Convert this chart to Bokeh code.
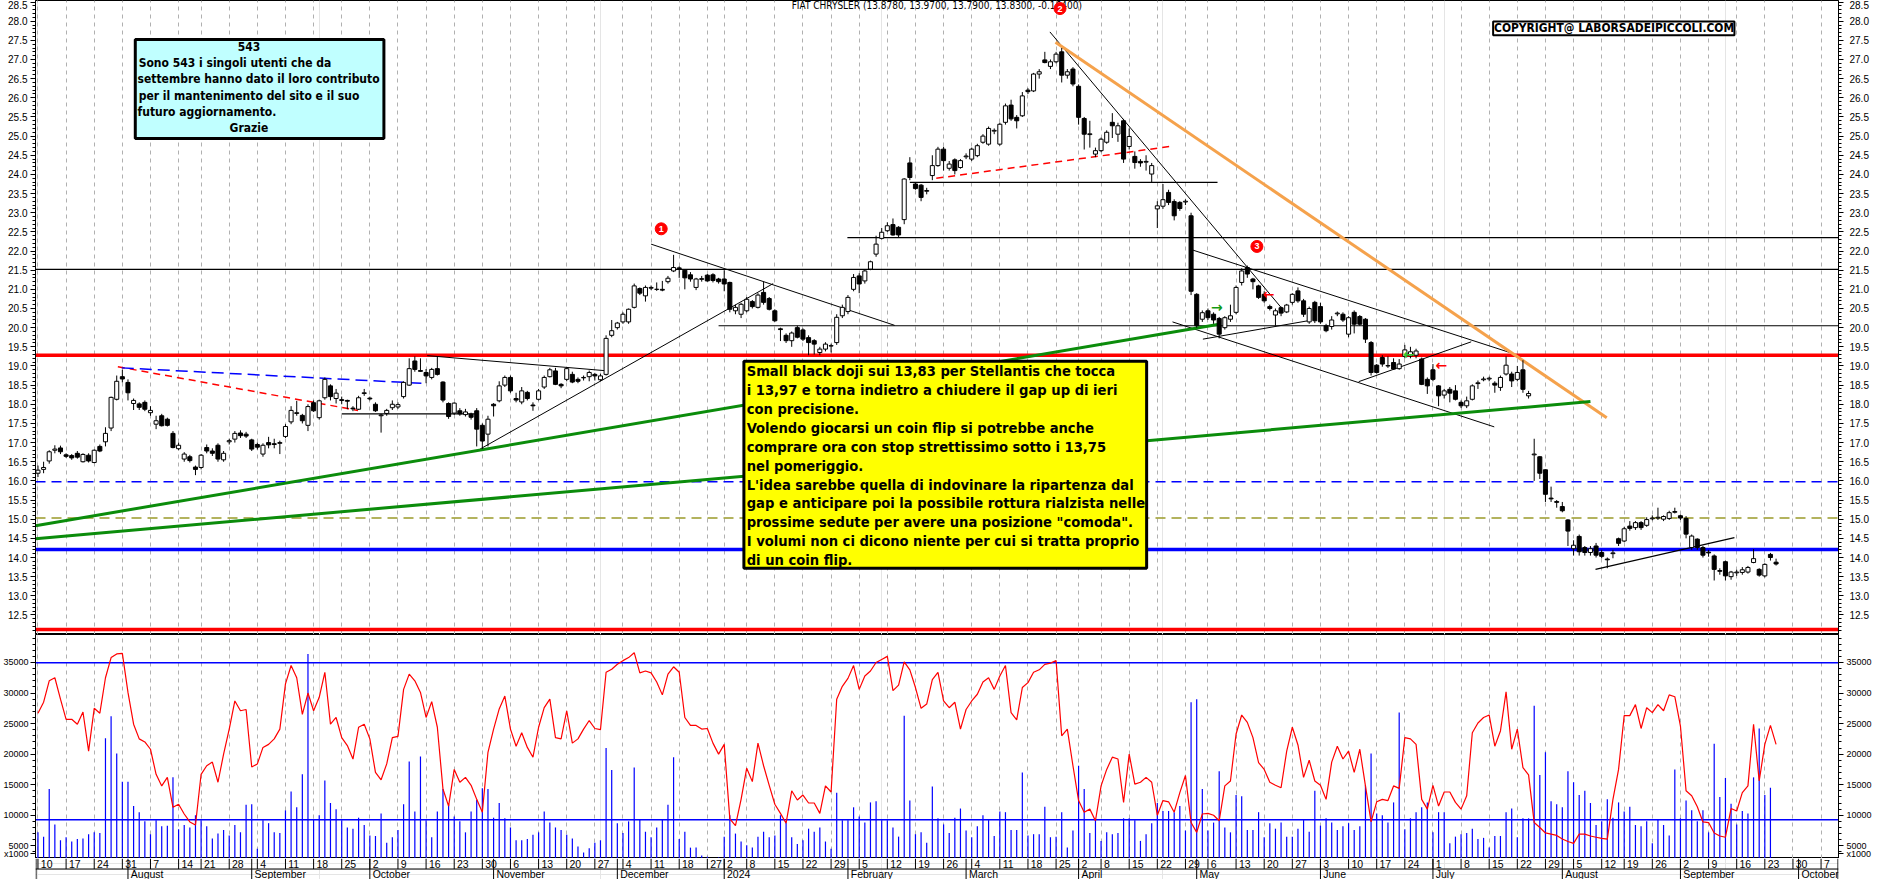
import pandas as pd
from bokeh.plotting import figure
from bokeh.layouts import column
from bokeh.models import (ColumnDataSource, FixedTicker, Grid, LinearAxis, Range1d,
                          PrintfTickFormatter)
from bokeh.core.properties import value
from bokeh.embed import file_html
from bokeh.resources import INLINE

# ------------------------------------------------------------------ data
first_session = "2023-07-10"
calendar_end = "2024-10-18"
exchange_holidays = ["2023-08-15", "2023-12-25", "2023-12-26", "2024-01-01",
                     "2024-03-29", "2024-04-01", "2024-05-01", "2024-08-15"]

opens = [
    16.20, 16.30, 16.52, 16.80, 16.86, 16.68, 16.66, 16.72, 16.50, 16.67,
    16.48, 16.90, 17.02, 17.38, 18.13, 18.72, 18.57, 18.02, 18.01, 18.05,
    17.78, 17.48, 17.70, 17.61, 17.24, 16.84, 16.57, 16.63, 16.36, 16.35,
    16.87, 16.78, 16.93, 16.55, 17.02, 17.09, 17.25, 17.22, 17.07, 16.95,
    16.70, 17.00, 16.97, 16.98, 17.16, 17.54, 17.76, 17.71, 17.45, 18.04,
    17.65, 18.17, 18.48, 18.15, 18.12, 18.10, 17.90, 17.87, 18.28, 18.16,
    18.00, 17.70, 17.76, 17.91, 17.93, 18.20, 18.50, 19.13, 18.88, 18.83,
    18.70, 18.93, 18.58, 18.02, 17.77, 17.83, 17.73, 17.74, 17.83, 17.45,
    17.22, 18.00, 18.09, 18.50, 18.70, 18.15, 18.06, 18.31, 17.98, 18.13,
    18.45, 18.72, 18.87, 18.52, 18.65, 18.78, 18.65, 18.69, 18.72, 18.78,
    18.64, 18.78, 19.80, 20.00, 20.15, 20.15, 20.53, 21.02, 20.83, 21.03,
    21.00, 21.00, 21.20, 21.48, 21.56, 21.50, 21.38, 21.05, 21.26, 21.37,
    21.38, 21.27, 21.27, 21.18, 20.44, 20.35, 20.44, 20.68, 20.53, 20.92,
    20.76, 20.44, 19.97, 19.80, 19.66, 20.00, 19.94, 19.74, 19.66, 19.35,
    19.44, 19.52, 19.61, 20.31, 20.42, 21.00, 21.35, 21.22, 21.53, 21.92,
    22.33, 22.53, 22.69, 22.62, 22.82, 24.30, 23.75, 23.72, 23.56, 23.97,
    24.23, 24.66, 24.16, 24.38, 24.18, 24.46, 24.40, 24.49, 24.84, 24.79,
    25.13, 24.79, 25.36, 25.81, 25.49, 25.53, 26.20, 26.18, 26.62, 26.99,
    26.82, 26.94, 27.20, 26.59, 26.75, 26.30, 25.46, 25.04, 24.53, 24.62,
    24.84, 25.36, 25.05, 25.40, 24.73, 24.47, 24.34, 24.32, 24.01, 23.10,
    23.17, 23.53, 23.29, 23.27, 23.28, 22.92, 20.87, 20.22, 20.44, 20.35,
    20.24, 20.00, 20.22, 20.40, 21.18, 21.57, 21.27, 21.09, 20.87, 20.55,
    20.33, 20.52, 20.41, 20.66, 20.96, 20.70, 20.15, 20.66, 20.55, 20.05,
    20.03, 20.36, 20.35, 19.83, 20.40, 20.29, 20.22, 19.61, 19.02, 19.22,
    19.00, 19.09, 18.93, 19.25, 19.26, 19.28, 19.18, 18.65, 18.90, 18.48,
    18.24, 18.39, 18.35, 18.05, 17.96, 18.13, 18.54, 18.64, 18.66, 18.55,
    18.44, 18.79, 18.79, 18.65, 18.90, 18.22, 16.68, 16.63, 16.29, 15.55,
    15.46, 15.33, 14.98, 14.23, 14.55, 14.26, 14.13, 14.30, 14.13, 13.96,
    14.10, 14.49, 14.43, 14.82, 14.78, 14.91, 14.84, 15.01, 15.03, 15.00,
    15.02, 15.18, 15.09, 15.02, 14.26, 14.48, 14.26, 14.14, 14.04, 13.66,
    13.89, 13.50, 13.60, 13.61, 13.62, 13.87, 13.69, 13.52, 14.08, 13.878,
]
highs = [
    16.40, 16.50, 16.80, 16.93, 16.92, 16.72, 16.70, 16.78, 16.72, 16.72,
    16.82, 16.95, 17.40, 18.20, 18.75, 18.90, 18.65, 18.15, 18.05, 18.10,
    17.95, 17.70, 17.75, 17.65, 17.30, 17.00, 16.75, 16.68, 16.40, 16.70,
    16.95, 16.85, 16.98, 16.78, 17.10, 17.30, 17.32, 17.28, 17.10, 17.00,
    16.98, 17.15, 17.10, 17.05, 17.48, 17.95, 18.09, 17.75, 18.00, 18.10,
    18.12, 18.70, 18.52, 18.40, 18.20, 18.12, 17.95, 18.22, 18.40, 18.20,
    18.05, 17.75, 17.88, 18.10, 18.05, 18.60, 19.20, 19.25, 19.20, 18.92,
    18.95, 19.25, 18.60, 18.05, 18.05, 17.90, 17.88, 17.78, 17.90, 17.50,
    17.70, 18.03, 18.60, 18.75, 18.75, 18.30, 18.45, 18.35, 18.05, 18.40,
    18.75, 18.95, 18.95, 18.55, 18.96, 18.85, 18.70, 18.75, 18.88, 18.82,
    18.80, 19.80, 20.20, 20.15, 20.40, 20.50, 21.15, 21.05, 21.10, 21.10,
    21.18, 21.22, 21.35, 21.90, 21.60, 21.52, 21.45, 21.30, 21.35, 21.40,
    21.42, 21.30, 21.50, 21.20, 20.60, 20.65, 20.80, 20.72, 20.90, 21.20,
    20.80, 20.48, 20.00, 19.85, 19.90, 20.05, 19.98, 19.80, 19.70, 19.50,
    19.62, 19.58, 20.35, 20.60, 20.85, 21.40, 21.42, 21.52, 21.75, 22.40,
    22.60, 22.75, 22.85, 22.65, 23.90, 24.45, 23.80, 23.75, 23.65, 24.50,
    24.72, 24.72, 24.35, 24.42, 24.40, 24.55, 24.70, 24.80, 25.05, 25.25,
    25.20, 25.35, 25.85, 25.95, 25.55, 26.15, 26.25, 26.65, 26.75, 27.20,
    27.00, 27.20, 27.30, 26.75, 26.80, 26.35, 25.50, 25.40, 24.70, 24.96,
    25.15, 25.60, 25.35, 25.45, 25.20, 24.60, 24.40, 24.50, 24.30, 23.30,
    23.75, 23.60, 23.35, 23.30, 23.35, 23.00, 20.90, 20.45, 20.50, 20.40,
    20.28, 20.30, 20.60, 21.10, 21.55, 21.62, 21.30, 21.12, 20.95, 20.60,
    20.50, 20.55, 20.62, 20.90, 21.05, 20.75, 20.55, 20.70, 20.65, 20.10,
    20.30, 20.42, 20.40, 20.30, 20.45, 20.33, 20.25, 19.65, 19.05, 19.28,
    19.25, 19.20, 19.18, 19.55, 19.50, 19.45, 19.22, 18.70, 19.05, 18.50,
    18.40, 18.45, 18.50, 18.10, 18.20, 18.52, 18.62, 18.72, 18.72, 18.60,
    18.75, 19.25, 18.85, 19.00, 19.15, 18.35, 17.10, 16.65, 16.30, 15.85,
    15.50, 15.45, 15.00, 14.45, 14.60, 14.30, 14.30, 14.38, 14.20, 14.00,
    14.20, 14.52, 14.80, 14.95, 14.95, 14.95, 15.05, 15.10, 15.30, 15.10,
    15.22, 15.30, 15.12, 15.08, 14.60, 14.50, 14.30, 14.20, 14.08, 13.72,
    13.92, 13.65, 13.68, 13.75, 13.78, 14.22, 13.72, 13.85, 14.12, 13.97,
]
lows = [
    16.10, 16.20, 16.45, 16.72, 16.70, 16.60, 16.55, 16.58, 16.48, 16.48,
    16.46, 16.75, 16.90, 17.30, 18.10, 18.57, 18.10, 17.85, 17.85, 17.82,
    17.70, 17.35, 17.42, 17.42, 16.85, 16.80, 16.50, 16.48, 16.15, 16.30,
    16.72, 16.65, 16.50, 16.50, 16.95, 17.00, 17.12, 17.12, 16.78, 16.82,
    16.63, 16.85, 16.85, 16.70, 17.12, 17.48, 17.70, 17.50, 17.30, 17.80,
    17.60, 18.12, 18.10, 18.02, 18.00, 17.87, 17.82, 17.85, 18.22, 18.10,
    17.80, 17.26, 17.70, 17.85, 17.88, 18.15, 18.48, 18.85, 18.85, 18.55,
    18.65, 18.75, 18.05, 17.62, 17.72, 17.70, 17.68, 17.60, 16.90, 16.83,
    16.90, 17.68, 18.05, 18.45, 18.30, 18.05, 18.00, 18.10, 17.83, 18.10,
    18.40, 18.70, 18.50, 18.42, 18.60, 18.55, 18.55, 18.62, 18.60, 18.62,
    18.60, 18.75, 19.75, 19.95, 20.10, 20.10, 20.50, 20.85, 20.68, 20.98,
    20.96, 20.95, 21.15, 21.45, 21.30, 21.00, 21.20, 20.98, 21.20, 21.20,
    21.18, 21.15, 20.95, 20.40, 20.35, 20.25, 20.40, 20.50, 20.50, 20.60,
    20.45, 20.15, 19.65, 19.60, 19.50, 19.72, 19.65, 19.28, 19.30, 19.28,
    19.38, 19.35, 19.55, 20.25, 20.35, 20.95, 20.90, 21.15, 21.50, 21.85,
    22.30, 22.50, 22.40, 22.35, 22.70, 23.85, 23.60, 23.30, 23.48, 23.85,
    24.20, 24.10, 24.10, 24.00, 24.15, 24.40, 24.35, 24.45, 24.80, 24.75,
    25.05, 24.75, 25.30, 25.40, 25.20, 25.50, 26.10, 26.15, 26.50, 26.90,
    26.75, 26.90, 26.40, 26.50, 26.30, 25.30, 24.65, 24.70, 24.45, 24.58,
    24.80, 24.95, 24.85, 24.30, 24.65, 24.15, 24.20, 24.10, 23.80, 22.60,
    23.10, 23.20, 22.80, 23.05, 23.20, 20.85, 20.00, 20.15, 20.20, 20.10,
    19.72, 19.95, 20.15, 20.35, 21.10, 21.30, 21.00, 20.75, 20.65, 20.45,
    20.05, 20.30, 20.38, 20.60, 20.65, 20.28, 20.10, 20.12, 20.10, 19.88,
    19.95, 20.30, 20.15, 19.75, 19.85, 20.05, 19.60, 18.75, 18.80, 18.98,
    18.95, 18.90, 18.90, 19.20, 19.20, 19.20, 18.50, 18.27, 18.60, 17.95,
    18.15, 18.05, 18.10, 17.90, 17.90, 18.10, 18.40, 18.60, 18.60, 18.30,
    18.35, 18.75, 18.45, 18.60, 18.30, 18.15, 16.00, 16.05, 15.45, 15.45,
    15.30, 15.18, 14.30, 14.05, 14.05, 14.05, 14.05, 14.00, 13.98, 13.72,
    13.98, 14.30, 14.40, 14.70, 14.72, 14.72, 14.80, 14.97, 14.98, 14.95,
    14.98, 15.15, 14.98, 14.50, 14.20, 14.20, 14.00, 14.02, 13.40, 13.55,
    13.40, 13.42, 13.52, 13.55, 13.58, 13.85, 13.50, 13.48, 13.92, 13.79,
]
closes = [
    16.28, 16.35, 16.76, 16.83, 16.76, 16.64, 16.60, 16.62, 16.69, 16.52,
    16.80, 16.78, 17.24, 18.18, 18.60, 18.66, 18.30, 18.10, 17.92, 17.87,
    17.84, 17.57, 17.44, 17.45, 16.87, 16.93, 16.70, 16.53, 16.30, 16.67,
    16.78, 16.72, 16.57, 16.72, 17.05, 17.24, 17.18, 17.17, 16.83, 16.88,
    16.93, 16.94, 16.95, 17.00, 17.42, 17.84, 17.78, 17.57, 17.94, 17.83,
    18.09, 18.65, 18.20, 18.29, 18.10, 18.08, 17.88, 18.17, 18.30, 18.14,
    17.83, 17.72, 17.84, 18.00, 17.99, 18.57, 18.93, 18.91, 18.86, 18.74,
    18.91, 18.78, 18.11, 17.68, 18.03, 17.75, 17.80, 17.66, 17.35, 17.04,
    17.61, 17.96, 18.48, 18.70, 18.35, 18.11, 18.35, 18.15, 17.96, 18.35,
    18.70, 18.90, 18.52, 18.48, 18.93, 18.58, 18.60, 18.70, 18.83, 18.74,
    18.74, 19.72, 19.92, 20.12, 20.35, 20.48, 21.09, 20.90, 21.05, 21.05,
    21.00, 20.98, 21.29, 21.57, 21.54, 21.30, 21.27, 21.27, 21.28, 21.22,
    21.23, 21.20, 21.14, 20.48, 20.53, 20.61, 20.74, 20.55, 20.85, 20.66,
    20.48, 20.18, 19.95, 19.66, 19.86, 19.75, 19.70, 19.61, 19.57, 19.44,
    19.57, 19.53, 20.27, 20.53, 20.79, 21.31, 21.14, 21.48, 21.72, 22.18,
    22.49, 22.66, 22.42, 22.42, 23.88, 23.92, 23.63, 23.40, 23.58, 24.23,
    24.66, 24.36, 24.27, 24.10, 24.36, 24.48, 24.66, 24.75, 25.00, 25.20,
    25.15, 25.31, 25.79, 25.45, 25.40, 26.05, 26.16, 26.62, 26.68, 26.92,
    26.94, 27.14, 26.59, 26.68, 26.36, 25.49, 25.05, 25.06, 24.62, 24.92,
    25.10, 25.27, 25.27, 24.40, 24.99, 24.31, 24.30, 24.34, 24.23, 23.18,
    23.34, 23.27, 22.92, 23.11, 23.30, 20.95, 20.05, 20.39, 20.26, 20.20,
    19.83, 20.26, 20.31, 21.05, 21.48, 21.40, 21.20, 20.79, 20.70, 20.50,
    20.44, 20.38, 20.59, 20.87, 20.70, 20.35, 20.50, 20.18, 20.15, 19.92,
    20.20, 20.38, 20.20, 20.26, 20.09, 20.09, 19.70, 18.83, 18.83, 19.05,
    19.01, 18.92, 19.05, 19.42, 19.37, 19.39, 18.52, 18.48, 18.65, 18.22,
    18.35, 18.29, 18.13, 17.96, 18.09, 18.48, 18.56, 18.66, 18.68, 18.50,
    18.70, 19.02, 18.61, 18.83, 18.39, 18.28, 16.70, 16.20, 15.65, 15.53,
    15.44, 15.22, 14.69, 14.32, 14.15, 14.13, 14.23, 14.06, 14.03, 13.94,
    14.12, 14.37, 14.75, 14.76, 14.91, 14.78, 14.99, 15.03, 15.05, 15.07,
    15.17, 15.20, 15.03, 14.61, 14.56, 14.26, 14.06, 14.12, 13.69, 13.64,
    13.52, 13.62, 13.62, 13.68, 13.74, 13.97, 13.54, 13.82, 14.00, 13.83,
]
volumes = [
    7200, 6500, 14300, 8500, 5900, 6400, 5700, 6100, 6200, 6900,
    7200, 7100, 22600, 26200, 20100, 15500, 15500, 11500, 10500, 9000,
    6900, 9200, 8200, 8300, 16200, 7700, 8400, 8000, 10000, 9200,
    8200, 6200, 7000, 7600, 6700, 8400, 7200, 11700, 11800, 4500,
    9200, 8700, 7200, 7100, 10800, 13900, 11300, 16700, 36400, 9400,
    10000, 15700, 12000, 11000, 9200, 8000, 7800, 9600, 8400, 6700,
    6600, 10300, 5500, 6400, 7600, 11800, 18800, 10600, 19600, 9200,
    6400, 10600, 14300, 11800, 9800, 9000, 7200, 10600, 12500, 14400,
    14300, 9600, 12000, 9500, 8000, 5900, 5900, 6100, 6800, 7200,
    10600, 8800, 8000, 7600, 6800, 6200, 4900, 3900, 4600, 5500,
    5900, 21000, 17400, 8700, 7100, 9000, 17800, 9300, 7300, 6400,
    8000, 9300, 11700, 19500, 6100, 7300, 4700, 4700, 3400, 3200,
    2900, 3100, 6500, 10000, 7000, 5700, 5100, 4700, 6500, 7300,
    6400, 6700, 10000, 8800, 6400, 5300, 5900, 7800, 7300, 8000,
    5700, 4500, 13700, 9200, 9200, 11300, 9800, 8800, 12100, 12300,
    9200, 9200, 8000, 6500, 26300, 12400, 6900, 7200, 5500, 14700,
    9500, 8500, 7100, 9600, 11100, 7500, 6400, 8200, 10000, 9200,
    6600, 10600, 10500, 7600, 7600, 17000, 6700, 6900, 6900, 11400,
    6400, 6500, 10500, 4700, 7500, 18100, 14300, 7100, 9300, 5800,
    7200, 6900, 7100, 9500, 9500, 9200, 5800, 6900, 8700, 12000,
    10700, 10700, 10500, 11500, 7500, 28500, 29000, 14300, 7500, 8800,
    17200, 8000, 7200, 13300, 13100, 7600, 7600, 10500, 6400, 8700,
    7800, 8800, 6500, 6500, 7800, 9200, 7300, 14000, 8300, 9500,
    8800, 7600, 8200, 8700, 7600, 8200, 14900, 20100, 10300, 10000,
    8800, 12100, 26800, 7700, 9500, 10500, 11300, 12100, 7200, 10500,
    10500, 5400, 6500, 6900, 7100, 7800, 6100, 6300, 4700, 6600,
    6600, 10500, 11100, 6400, 9500, 9500, 27900, 16600, 20300, 12300,
    11800, 11300, 17200, 15400, 13300, 14000, 12000, 8400, 9000, 12600,
    9600, 12100, 10600, 11400, 8400, 8200, 9000, 5400, 9300, 8400,
    6700, 17500, 9500, 12400, 10800, 9000, 10800, 7200, 21700, 13000,
    16100, 11900, 8500, 10700, 10300, 16200, 24200, 13300, 14500, 2500,
]
oscillator = [
    26700, 28500, 32000, 32500, 29000, 25700, 25700, 24900, 26900, 20500,
    27500, 26700, 32500, 35800, 36400, 36500, 30100, 24900, 22500, 22000,
    20800, 16700, 14800, 16200, 11300, 11800, 10200, 8900, 8400, 16700,
    18100, 18700, 15400, 20000, 24100, 28700, 27100, 27300, 17900, 18400,
    21100, 21600, 22500, 24100, 31500, 34500, 32500, 26500, 30000, 27100,
    29300, 33400, 24900, 26000, 22700, 21400, 19200, 24400, 24900, 22500,
    17000, 15800, 18400, 22700, 22900, 30600, 33100, 32000, 30100, 26000,
    28600, 24400, 14300, 11500, 17500, 15400, 16200, 14900, 12600, 10500,
    20300, 24100, 27400, 29500, 24100, 21300, 23500, 21100, 19500, 24400,
    27600, 29000, 22700, 22500, 27100, 21800, 22500, 24100, 25500, 24200,
    24000, 33400, 33900, 34700, 35300, 35800, 36600, 33300, 33600, 33300,
    31800, 29700, 33100, 34300, 33400, 26000, 24700, 24700, 24100, 24200,
    21800, 20000, 21600, 9400, 8300, 12600, 17700, 15500, 21800, 18100,
    14900, 11800, 10300, 8700, 14000, 12500, 13300, 12000, 12000, 10300,
    14800, 13800, 29000, 31100, 32400, 34500, 30600, 32800, 33600, 35000,
    35500, 36000, 30400, 31300, 35100, 33800, 30900, 27500, 28200, 32200,
    33400, 28700, 27600, 28500, 24100, 27300, 28700, 29800, 31800, 32500,
    30600, 32800, 34500, 26800, 25600, 30900, 31700, 33400, 33800, 34700,
    34900, 35300, 23000, 24100, 18100, 12400, 10500, 11000, 9100, 14800,
    17500, 19500, 19200, 12100, 20000, 15100, 15400, 16200, 15400, 10000,
    12400, 12200, 10500, 13700, 16500, 8800, 7200, 10200, 10300, 10000,
    9100, 14800, 15600, 23300, 26400, 25200, 22700, 18600, 17500, 15400,
    14900, 14500, 20500, 24400, 21500, 16200, 19000, 15600, 14900, 12600,
    18700, 21300, 19200, 20500, 17000, 20800, 14800, 8900, 12200, 12600,
    12400, 14800, 14400, 22700, 22500, 21600, 12600, 11000, 14900, 11500,
    13800, 13800, 12100, 11000, 13200, 23500, 25100, 26000, 26400, 21300,
    23800, 30200, 20800, 24100, 17800, 16600, 8800, 8000, 7100, 6900,
    6700, 6100, 5700, 5400, 6900, 6900, 6600, 6400, 6200, 6100,
    12600, 17500, 26300, 26300, 28100, 24200, 27600, 26800, 28100, 27100,
    29700, 29400, 24600, 14000, 13200, 11400, 8900, 8800, 7100, 6600,
    6400, 11100, 10700, 13700, 14800, 24900, 15600, 21600, 24700, 21600,
]
volume_levels = [34950, 9250]

price_tick_labels = [12.5 + 0.5 * k for k in range(33)]      # 12.5 ... 28.5
price_minor_ticks = [round(12.0 + 0.1 * k, 1) for k in range(168)]
volume_unit_tick = 3700                                      # where "x1000" sits
volume_tick_labels = [volume_unit_tick] + [5000 * k for k in range(1, 8)]
volume_minor_ticks = [1000 * k for k in range(3, 40)]
volume_unit_text = "x1000"

title_text = "FIAT CHRYSLER (13.8780, 13.9700, 13.7900, 13.8300, -0.16400)"
copyright_text = "COPYRIGHT@ LABORSADEIPICCOLI.COM"
cyan_lines = ["543",
              "Sono 543 i singoli utenti che da",
              "settembre hanno dato il loro contributo",
              "per il mantenimento  del sito e il suo",
              "futuro aggiornamento.",
              "Grazie"]
yellow_lines = ["Small black doji sui 13,83 per Stellantis che tocca",
                "i 13,97 e torna indietro a chiudere il gap up di ieri",
                "con precisione.",
                "Volendo giocarsi un coin flip si potrebbe anche",
                "comprare ora con stop strettissimo sotto i 13,75",
                "nel pomeriggio.",
                "L'idea sarebbe quella di indovinare la ripartenza dal",
                "gap e anticipare poi la possibile rottura rialzista nelle",
                "prossime sedute per avere una posizione \"comoda\".",
                "I volumi non ci dicono niente per cui si tratta proprio",
                "di un coin flip."]

# horizontal levels across the whole chart: price, colour, width, dash
full_levels = [
    (21.52, "black", 1.2, "solid"),
    (19.28, "#ff0000", 3.5, "solid"),
    (15.98, "#0000ff", 1.5, "10 6"),
    (15.03, "#9a9a2a", 1.5, "10 6"),
    (14.21, "#0000ff", 3.5, "solid"),
    (12.12, "#ff0000", 3.5, "solid"),
]
# drawn trendlines: x0, y0, x1, y1 (session index / price), colour, width, dash
trendlines = [
    (143.9, 22.35, 320.1, 22.35, "black", 1.2, "solid"),
    (121.0, 20.05, 320.1, 20.05, "black", 1.2, "solid"),
    (155.0, 23.79, 209.7, 23.79, "black", 1.2, "solid"),
    (54.0, 17.75, 78.3, 17.75, "black", 1.2, "solid"),
    (69.2, 19.27, 101.4, 18.87, "black", 1.0, "solid"),
    (78.6, 16.83, 130.7, 21.15, "black", 1.0, "solid"),
    (109.0, 22.18, 152.3, 20.06, "black", 1.0, "solid"),
    (179.9, 27.72, 221.1, 20.51, "black", 1.0, "solid"),
    (205.2, 22.03, 261.7, 19.35, "black", 1.0, "solid"),
    (201.7, 20.15, 258.9, 17.41, "black", 1.0, "solid"),
    (207.1, 19.70, 225.8, 20.18, "black", 1.0, "solid"),
    (234.8, 18.59, 254.8, 19.63, "black", 1.0, "solid"),
    (276.9, 13.69, 301.6, 14.52, "black", 1.2, "solid"),
    (159.7, 23.90, 201.3, 24.73, "#ff0000", 1.5, "7 5"),
    (14.2, 18.98, 56.9, 17.84, "#ff0000", 1.5, "7 5"),
    (14.9, 18.95, 69.2, 18.54, "#0000ff", 1.5, "12 6"),
    (180.9, 27.45, 278.9, 17.65, "#f5a24c", 3.0, "solid"),
    (-0.44, 14.83, 210.0, 20.09, "#0b8c0b", 3.0, "solid"),
    (-0.44, 14.49, 276.0, 18.07, "#0b8c0b", 3.0, "solid"),
]
marker_x = [110.8, 181.7, 216.7]
marker_y = [22.58, 28.33, 22.12]
marker_text = ["1", "2", "3"]
arrow_x = [209.6, 218.8, 243.7, 249.5]
arrow_y = [20.55, 20.87, 19.31, 19.02]
arrow_text = ["\u2192", "\u2190", "\u2190", "\u2190"]
arrow_color = ["#139a13", "#ff0000", "#33cc33", "#ff0000"]

# ------------------------------------------------------------------ calendar
sessions = [d for d in pd.bdate_range(first_session, calendar_end)
            if d.strftime("%Y-%m-%d") not in exchange_holidays]
n = len(closes)
idx = list(range(n))
X_MIN, X_MAX = -0.44, 320.1

week_ticks, week_labels, month_ticks, month_labels = [], [], [], []
for i, d in enumerate(sessions):
    if i > X_MAX:
        break
    if i == 0 or d.isocalendar()[1] != sessions[i - 1].isocalendar()[1]:
        week_ticks.append(i)
        week_labels.append(str(d.day))
    if i > 0 and d.month != sessions[i - 1].month:
        month_ticks.append(i)
        month_labels.append(str(d.year) if d.month == 1 else d.strftime("%B"))

FONT = "Liberation Sans"
NARROW = "Liberation Sans Narrow, DejaVu Sans Condensed, Liberation Sans"
xr = Range1d(X_MIN, X_MAX)


def style_axis(ax, ticker, fmt, size, standoff, overrides=None):
    ax.ticker = ticker
    ax.formatter = PrintfTickFormatter(format=fmt)
    if overrides:
        ax.major_label_overrides = overrides
    ax.axis_line_color = "black"
    ax.major_tick_line_color = "black"
    ax.minor_tick_line_color = "black"
    ax.major_tick_in = 0
    ax.major_tick_out = 5
    ax.minor_tick_in = 0
    ax.minor_tick_out = 3
    ax.major_label_text_font = FONT
    ax.major_label_text_font_size = size
    ax.major_label_text_color = "black"
    ax.major_label_standoff = standoff


def price_ticker():
    return FixedTicker(ticks=price_tick_labels, minor_ticks=price_minor_ticks)


def volume_ticker():
    return FixedTicker(ticks=volume_tick_labels, minor_ticks=volume_minor_ticks)


def week_grid():
    return Grid(dimension=0, ticker=FixedTicker(ticks=week_ticks),
                grid_line_color="#b0b0b0", grid_line_dash="4 4", grid_line_width=1)


# ------------------------------------------------------------------ price panel
p = figure(width=1874, height=634, x_range=xr, y_range=Range1d(11.99, 28.54),
           output_backend="svg", toolbar_location=None, x_axis_location=None,
           y_axis_location="left", min_border_left=34, min_border_right=34,
           min_border_top=0, min_border_bottom=0, outline_line_color="black",
           background_fill_color="white", border_fill_color="white")
p.ygrid.grid_line_color = None
style_axis(p.yaxis[0], price_ticker(), "%.1f", "10px", 3)
rax = LinearAxis()
style_axis(rax, price_ticker(), "%.1f", "10px", 6)
p.add_layout(rax, "right")
p.add_layout(week_grid())

for lvl, col, w, dash in full_levels:
    p.segment(x0=[X_MIN], y0=[lvl], x1=[X_MAX], y1=[lvl], line_color=col,
              line_width=w, line_dash=dash)
for x0, y0, x1, y1, col, w, dash in trendlines:
    p.segment(x0=[x0], y0=[y0], x1=[x1], y1=[y1], line_color=col,
              line_width=w, line_dash=dash)

csrc = ColumnDataSource(dict(x=idx, o=opens, h=highs, l=lows, c=closes))
p.segment(x0="x", y0="l", x1="x", y1="h", source=csrc, line_color="black", line_width=1)
up = [i for i in idx if closes[i] >= opens[i]]
dn = [i for i in idx if closes[i] < opens[i]]
p.vbar(x=up, width=0.72, bottom=[opens[i] for i in up], top=[closes[i] for i in up],
       fill_color="white", line_color="black", line_width=1)
p.vbar(x=dn, width=0.72, bottom=[closes[i] for i in dn], top=[opens[i] for i in dn],
       fill_color="black", line_color="black", line_width=1)

p.text(x=[159.8], y=[28.41], text=[title_text], text_font=value(NARROW),
       text_font_size="10px", text_align="center", text_baseline="middle", text_color="black")

# boxes with text
p.quad(left=[17.3], right=[61.5], bottom=[24.94], top=[27.52], fill_color="#c0ffff",
       line_color="black", line_width=3)
cy = [27.34 - k * 0.428 for k in range(len(cyan_lines))]
cx = [37.5, 17.9, 17.7, 17.9, 17.7, 37.5]
calign = ["center", "left", "left", "left", "left", "center"]
p.text(x=cx, y=cy, text=cyan_lines, text_align=calign, text_baseline="middle",
       text_font=value(NARROW), text_font_size="12px", text_font_style="bold", text_color="black")

p.quad(left=[258.7], right=[301.6], bottom=[27.63], top=[27.99], fill_color="white",
       line_color="black", line_width=2)
p.text(x=[280.2], y=[27.81], text=[copyright_text], text_align="center", text_baseline="middle",
       text_font=value(NARROW), text_font_size="11.9px", text_font_style="bold", text_color="black")

p.quad(left=[125.5], right=[197.1], bottom=[13.72], top=[19.12], fill_color="#ffff00",
       line_color="black", line_width=3)
yy = [18.87 - k * 0.492 for k in range(len(yellow_lines))]
p.text(x=[126.0] * len(yellow_lines), y=yy, text=yellow_lines, text_align="left",
       text_baseline="middle", text_font=value(NARROW), text_font_size="14.6px",
       text_font_style="bold", text_color="black")

p.scatter(x=marker_x, y=marker_y, size=12, marker="circle", fill_color="#ff0000",
          line_color="#ff0000")
p.text(x=marker_x, y=marker_y, text=marker_text, text_align="center", text_baseline="middle",
       text_font=value(FONT), text_font_size="9px", text_font_style="bold", text_color="white")
p.text(x=arrow_x, y=arrow_y, text=arrow_text, text_color=arrow_color, text_align="center",
       text_baseline="middle", text_font=value("DejaVu Sans"), text_font_size="14px",
       text_font_style="bold")

# ------------------------------------------------------------------ volume panel
v = figure(width=1874, height=224, x_range=xr, y_range=Range1d(2920, 39580),
           output_backend="svg", toolbar_location=None, x_axis_location=None,
           y_axis_location="left", min_border_left=34, min_border_right=34,
           min_border_top=0, min_border_bottom=0, outline_line_color="black",
           background_fill_color="white", border_fill_color="white")
v.ygrid.grid_line_color = None
unit_override = {volume_unit_tick: volume_unit_text}
style_axis(v.yaxis[0], volume_ticker(), "%d", "9px", 2, unit_override)
vrax = LinearAxis()
style_axis(vrax, volume_ticker(), "%d", "9px", 3, unit_override)
v.add_layout(vrax, "right")
v.add_layout(week_grid())
v.segment(x0=idx, y0=[0] * n, x1=idx, y1=volumes, line_color="#0000ff", line_width=1.2)
for lvl in volume_levels:
    v.segment(x0=[X_MIN], y0=[lvl], x1=[X_MAX], y1=[lvl], line_color="#0000ff", line_width=1.5)
v.line(x=idx, y=oscillator, line_color="#ff0000", line_width=1.2)

# ------------------------------------------------------------------ date axis
d = figure(width=1874, height=21, x_range=xr, y_range=Range1d(0, 2),
           output_backend="svg", toolbar_location=None, x_axis_location=None,
           y_axis_location=None, min_border_left=34, min_border_right=34,
           min_border_top=0, min_border_bottom=0, outline_line_color=None,
           background_fill_color="white", border_fill_color="white")
d.segment(x0=[X_MIN], y0=[1], x1=[X_MAX], y1=[1], line_color="black", line_width=1)
d.segment(x0=week_ticks, y0=[1] * len(week_ticks), x1=week_ticks, y1=[2] * len(week_ticks),
          line_color="black", line_width=1)
d.segment(x0=month_ticks, y0=[0] * len(month_ticks), x1=month_ticks, y1=[2] * len(month_ticks),
          line_color="black", line_width=1)
d.segment(x0=[X_MIN + 0.1, X_MAX - 0.1], y0=[0, 0], x1=[X_MIN + 0.1, X_MAX - 0.1], y1=[2, 2],
          line_color="black", line_width=1)
d.text(x=[t + 0.5 for t in week_ticks], y=[1.5] * len(week_ticks), text=week_labels,
       text_align="left", text_baseline="middle", text_font=value(FONT),
       text_font_size="10.5px", text_color="black")
d.text(x=[t + 0.5 for t in month_ticks], y=[0.5] * len(month_ticks), text=month_labels,
       text_align="left", text_baseline="middle", text_font=value(FONT),
       text_font_size="10.5px", text_color="black")

layout = column(p, v, d, spacing=0)
open("out.html", "w").write(file_html(layout, INLINE, "FIAT CHRYSLER"))
